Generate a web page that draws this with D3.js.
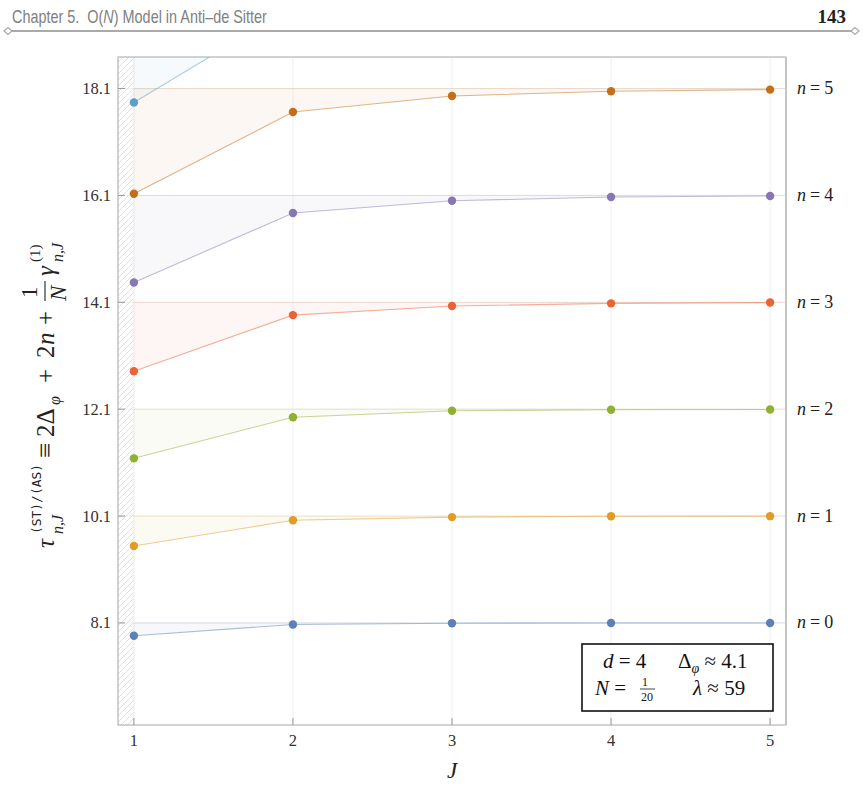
<!DOCTYPE html>
<html><head><meta charset="utf-8">
<script src="https://cdn.jsdelivr.net/npm/d3@7"></script>
<style>body{margin:0;background:#fff}</style>
</head><body><svg id="c" width="863" height="787" xmlns="http://www.w3.org/2000/svg"></svg>
<script>
// ---------- data ----------
const Jvals = [1, 2, 3, 4, 5];
const nLabels = ["0", "1", "2", "3", "4", "5"];
const thresholds = [8.1, 10.1, 12.1, 14.1, 16.1, 18.1, 20.1];
const tau_n0 = [7.86, 8.07, 8.095, 8.098, 8.099];
const tau_n1 = [9.54, 10.02, 10.08, 10.095, 10.098];
const tau_n2 = [11.18, 11.95, 12.07, 12.09, 12.095];
const tau_n3 = [12.81, 13.86, 14.03, 14.08, 14.095];
const tau_n4 = [14.47, 15.77, 16.0, 16.07, 16.09];
const tau_n5 = [16.13, 17.66, 17.96, 18.05, 18.08];
const tau_n6 = [17.84, 19.63, 19.95, 20.05, 20.08];
const series = [tau_n0, tau_n1, tau_n2, tau_n3, tau_n4, tau_n5, tau_n6];
const colors = ["#5E81B5", "#E19C24", "#8FB032", "#EB6235", "#8778B3", "#C56E1A", "#5D9EC7"];
const yTicks = [8.1, 10.1, 12.1, 14.1, 16.1, 18.1];
const xTicks = [1, 2, 3, 4, 5];

// ---------- layout ----------
const L = 118, R = 786, T = 57, B = 725;
const serif = "'Liberation Serif', 'DejaVu Serif', serif";
const svg = d3.select("#c");
const x = d3.scaleLinear().domain([0.9, 5.1]).range([L, R]);
const y = d3.scaleLinear().domain([6.19, 18.69]).range([B, T]);

// header
const hg = svg.append("g");
const ht = hg.append("text").attr("x", 0).attr("y", 0).attr("font-family", "'Liberation Sans', 'DejaVu Sans', sans-serif")
  .attr("font-size", 19).attr("fill", "#808080")
  .html("Chapter 5.&#160;&#160;O(<tspan font-style='italic'>N</tspan>) Model in Anti–de Sitter");
const hw = ht.node().getComputedTextLength();
hg.attr("transform", `translate(12,23) scale(${255 / hw},1)`);
svg.append("text").attr("x", 846).attr("y", 23).attr("text-anchor", "end").attr("font-family", serif)
  .attr("font-size", 19).attr("font-weight", "bold").attr("fill", "#222").text("143");
svg.append("line").attr("x1", 10).attr("x2", 853).attr("y1", 31).attr("y2", 31).attr("stroke", "#aaa").attr("stroke-width", 1.8);
[8, 855].forEach(cx => {
  svg.append("path").attr("d", `M${cx - 4},31 L${cx},27.5 L${cx + 4},31 L${cx},34.5 Z`)
    .attr("fill", "#fff").attr("stroke", "#aaa").attr("stroke-width", 1.2);
});

// defs
const defs = svg.append("defs");
defs.append("clipPath").attr("id", "clip").append("rect").attr("x", L).attr("y", T).attr("width", R - L).attr("height", B - T);
const pat = defs.append("pattern").attr("id", "hatch").attr("patternUnits", "userSpaceOnUse").attr("width", 6).attr("height", 6);
pat.append("path").attr("d", "M-1,7 L7,-1 M-1,1 L1,-1 M5,7 L7,5").attr("stroke", "#e0e0e0").attr("stroke-width", 1);

const plot = svg.append("g").attr("clip-path", "url(#clip)");

// grid
plot.selectAll(".vg").data(xTicks.slice(1)).enter().append("line")
  .attr("x1", d => x(d)).attr("x2", d => x(d)).attr("y1", T).attr("y2", B).attr("stroke", "#efefef").attr("stroke-width", 1);
plot.selectAll(".hg").data(yTicks).enter().append("line")
  .attr("x1", L).attr("x2", R).attr("y1", d => y(d)).attr("y2", d => y(d)).attr("stroke", "#efefef").attr("stroke-width", 1);

// hatched forbidden strip
plot.append("rect").attr("x", L).attr("y", T).attr("width", x(1) - L).attr("height", B - T).attr("fill", "url(#hatch)");
plot.append("line").attr("x1", x(1)).attr("x2", x(1)).attr("y1", T).attr("y2", B).attr("stroke", "#eaeaea");

// series
series.forEach((vals, i) => {
  const pts = Jvals.map((j, k) => ({ j, v: vals[k] }));
  const area = d3.area().x(d => x(d.j)).y0(y(thresholds[i])).y1(d => y(d.v));
  plot.append("path").datum(pts).attr("d", area).attr("fill", colors[i]).attr("fill-opacity", 0.055);
  plot.append("line").attr("x1", x(1)).attr("x2", R).attr("y1", y(thresholds[i])).attr("y2", y(thresholds[i]))
    .attr("stroke", colors[i]).attr("stroke-opacity", 0.12).attr("stroke-width", 1.2);
  plot.append("path").datum(pts).attr("d", d3.line().x(d => x(d.j)).y(d => y(d.v)))
    .attr("fill", "none").attr("stroke", colors[i]).attr("stroke-opacity", 0.5).attr("stroke-width", 1.1);
  plot.selectAll(null).data(pts).enter().append("circle")
    .attr("cx", d => x(d.j)).attr("cy", d => y(d.v)).attr("r", 4.2).attr("fill", colors[i]);
});

// frame
svg.append("rect").attr("x", L).attr("y", T).attr("width", R - L).attr("height", B - T)
  .attr("fill", "none").attr("stroke", "#a6a6a6").attr("stroke-width", 1);
svg.append("line").attr("x1", R).attr("x2", R).attr("y1", T).attr("y2", B).attr("stroke", "#c4c4c4").attr("stroke-width", 2);

// ticks
svg.selectAll(".yt").data(yTicks).enter().append("line")
  .attr("x1", L).attr("x2", L + 7).attr("y1", d => y(d)).attr("y2", d => y(d)).attr("stroke", "#999");
svg.selectAll(".ytl").data(yTicks).enter().append("text")
  .attr("x", L - 7).attr("y", d => y(d) + 5.5).attr("text-anchor", "end").attr("font-family", serif)
  .attr("font-size", 16.5).attr("fill", "#333").text(d => d.toFixed(1));
svg.selectAll(".xt").data(xTicks).enter().append("line")
  .attr("x1", d => x(d)).attr("x2", d => x(d)).attr("y1", B).attr("y2", B - 7).attr("stroke", "#999");
svg.selectAll(".xtl").data(xTicks).enter().append("text")
  .attr("x", d => x(d)).attr("y", 746).attr("text-anchor", "middle").attr("font-family", serif)
  .attr("font-size", 16.5).attr("fill", "#333").text(d => d);

// right labels
svg.selectAll(".nl").data(nLabels).enter().append("text")
  .attr("x", 797).attr("y", (d, i) => y(thresholds[i]) + 5.5).attr("font-family", serif).attr("font-size", 18).attr("fill", "#222")
  .html(d => `<tspan font-style="italic">n</tspan><tspan dx="4">=</tspan><tspan dx="4">${d}</tspan>`);

// x label
svg.append("text").attr("x", x(3)).attr("y", 778).attr("text-anchor", "middle").attr("font-family", serif)
  .attr("font-size", 23).attr("font-style", "italic").attr("fill", "#222").text("J");

// y label (rotated)
const yl = svg.append("g").attr("transform", "translate(54,393) rotate(-90)").attr("font-family", serif).attr("fill", "#222");
function t(xp, yp, size, txt, it, fam) {
  const e = yl.append("text").attr("x", xp).attr("y", yp).attr("font-size", size).text(txt);
  if (it) e.attr("font-style", "italic");
  if (fam) e.attr("font-family", fam);
  return e;
}
t(-155, 0, 25, "τ", true);
t(-141, -13, 12.5, "(ST)/(AS)", false, "'DejaVu Sans Mono', monospace").attr("textLength", 70).attr("lengthAdjust", "spacingAndGlyphs");
t(-141, 9, 16, "n,J", true);
t(-65, 0, 27, "≡", false);
t(-44, 0, 25, "2Δ", false);
t(-12, 6, 16, "φ", true);
t(10, 0, 25, "+", false);
t(35, 0, 25, "2", false);
t(48, 0, 25, "n", true);
t(68, 0, 25, "+", false);
t(95, -17, 23, "1", false);
yl.append("line").attr("x1", 92).attr("x2", 112).attr("y1", -9).attr("y2", -9).attr("stroke", "#222").attr("stroke-width", 1.1);
t(92, 12, 23, "N", true);
t(117, 0, 25, "γ", true);
t(131, -14, 15, "(1)", false);
t(131, 9, 16, "n,J", true);

// legend box
const lg = svg.append("g");
lg.append("rect").attr("x", 582).attr("y", 644).attr("width", 191).attr("height", 67)
  .attr("fill", "#fff").attr("stroke", "#111").attr("stroke-width", 1.6);
const lt = (xp, yp, size, html) => lg.append("text").attr("x", xp).attr("y", yp).attr("font-family", serif)
  .attr("font-size", size).attr("fill", "#111").html(html);
lt(603, 668, 21, "<tspan font-style='italic'>d</tspan> = 4");
lt(678, 668, 21, "Δ<tspan font-style='italic' font-size='14' dy='5'>φ</tspan><tspan dy='-5'> ≈ 4.1</tspan>");
lt(595, 695, 21, "<tspan font-style='italic'>N</tspan> =");
lt(642, 686, 12, "1");
lg.append("line").attr("x1", 640).attr("x2", 655).attr("y1", 689).attr("y2", 689).attr("stroke", "#111").attr("stroke-width", 0.8);
lt(641, 701, 12, "20");
lt(693, 695, 21, "<tspan font-style='italic'>λ</tspan> ≈ 59");
</script></body></html>
